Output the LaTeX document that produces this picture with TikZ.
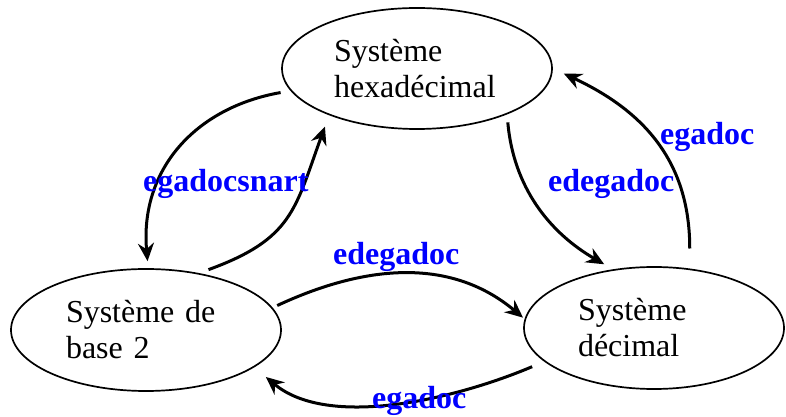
\documentclass[tikz,border=0pt]{standalone}
\usepackage{fontspec}
\setmainfont{Liberation Serif}
\usetikzlibrary{shapes.geometric,arrows.meta}
\tikzset{
    sys/.style={
        draw, ellipse, line width=1.7pt, inner sep=0pt,
        align=left, font=\fontsize{32}{36}\selectfont
    },
    lbl/.style={
        anchor=base west, inner sep=0pt, text=blue,
        font=\fontsize{32}{36}\selectfont\bfseries
    },
    arr/.style={
        line width=3pt, -{Stealth[length=18pt,width=16pt,inset=6pt]},
        looseness=#1
    },
    arr/.default=1
}

\begin{document}
\begin{tikzpicture}[x=1pt,y=1pt]
		\useasboundingbox (0,0) rectangle (786,417);
		
		% Systems
		\node[sys, minimum width=270, minimum height=121, text width=166] (hexa) at (417,348.5) {Système\\hexadécimal};
		\node[sys, minimum width=270, minimum height=122, text width=160] (base2) at (146,87) {Système de\\base 2};
		\node[sys, minimum width=260, minimum height=122, text width=152] (dec) at (654,89) {Système\\décimal};
		
		% Conversions
		\draw[arr=1.1, shorten <=10pt, shorten >=7pt] (hexa.190) to[out=190,in=95] (base2.88);
		\draw[arr=1.25, shorten <=10pt, shorten >=12pt] (base2.47) to[out=20,in=250] (hexa.208);
		\draw[arr, shorten <=8pt, shorten >=10pt] (hexa.333) to[out=275,in=150] (dec.125);
		\draw[arr=1.1, shorten <=20pt, shorten >=12pt] (dec.59) to[out=90,in=335] (hexa.0);
		\draw[arr, shorten <=5pt, shorten >=2pt] (base2.10) to[out=25,in=140] (dec.176);
		\draw[arr=0.85, shorten <=13pt, shorten >=15pt] (dec.197) to[out=203,in=320] (base2.341);
		
		% Labels
		\node[lbl] (l1) at (143,225) {egadocsnart};
		\node[lbl] (l2) at (548,225) {edegadoc};
		\node[lbl] (l3) at (660,272) {egadoc};
		\node[lbl] (l4) at (333,152) {edegadoc};
		\node[lbl] (l5) at (372,9) {egadoc};
	\end{tikzpicture}
\end{document}
